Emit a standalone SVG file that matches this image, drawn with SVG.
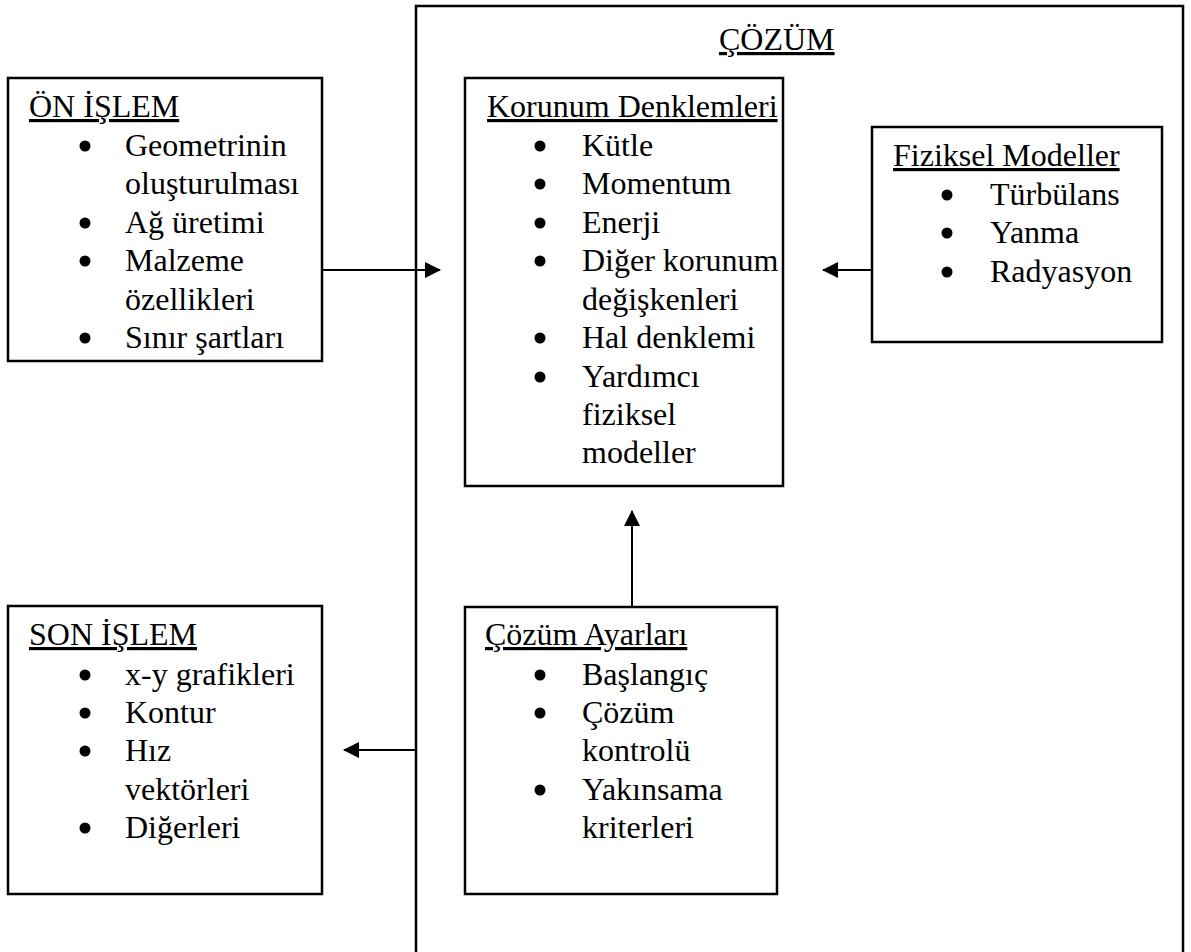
<svg xmlns="http://www.w3.org/2000/svg" width="1191" height="952" viewBox="0 0 1191 952">
<style>
.box{fill:none;stroke:#000;stroke-width:2.5}
.t{font-family:'Liberation Serif','DejaVu Serif',serif;font-size:32px;fill:#000}
.h{text-decoration:underline}
.b{fill:#000}
.c{stroke:#000;stroke-width:2;fill:none}
</style>
<defs>
<marker id="ah" viewBox="0 0 16 16" refX="15" refY="8" markerWidth="16" markerHeight="16" markerUnits="userSpaceOnUse" orient="auto">
<path d="M0,0 L16,8 L0,16 Z" fill="#000"/>
</marker>
</defs>
<rect width="1191" height="952" fill="#fff"/>
<g class="t">
<g id="cozum">
<rect class="box" x="416" y="6" width="767" height="960"/>
<text class="h" x="719" y="50">ÇÖZÜM</text>
</g>
<g id="on-islem">
<rect class="box" x="8" y="78" width="314" height="283"/>
<text class="h" x="29" y="117">ÖN İŞLEM</text>
<circle class="b" cx="85" cy="146" r="5.5"/>
<text x="125" y="156">Geometrinin</text>
<text x="125" y="194">oluşturulması</text>
<circle class="b" cx="85" cy="223" r="5.5"/>
<text x="125" y="233">Ağ üretimi</text>
<circle class="b" cx="85" cy="261" r="5.5"/>
<text x="125" y="271">Malzeme</text>
<text x="125" y="310">özellikleri</text>
<circle class="b" cx="85" cy="338" r="5.5"/>
<text x="125" y="348">Sınır şartları</text>
</g>
<g id="korunum">
<rect class="box" x="465" y="78" width="318" height="408"/>
<text class="h" x="487" y="117">Korunum Denklemleri</text>
<circle class="b" cx="540" cy="146" r="5.5"/>
<text x="582" y="156">Kütle</text>
<circle class="b" cx="540" cy="184" r="5.5"/>
<text x="582" y="194">Momentum</text>
<circle class="b" cx="540" cy="223" r="5.5"/>
<text x="582" y="233">Enerji</text>
<circle class="b" cx="540" cy="261" r="5.5"/>
<text x="582" y="271">Diğer korunum</text>
<text x="582" y="310">değişkenleri</text>
<circle class="b" cx="540" cy="338" r="5.5"/>
<text x="582" y="348">Hal denklemi</text>
<circle class="b" cx="540" cy="377" r="5.5"/>
<text x="582" y="387">Yardımcı</text>
<text x="582" y="425">fiziksel</text>
<text x="582" y="463">modeller</text>
</g>
<g id="fiziksel">
<rect class="box" x="872" y="127" width="290" height="215"/>
<text class="h" x="893" y="166">Fiziksel Modeller</text>
<circle class="b" cx="947" cy="195" r="5.5"/>
<text x="990" y="205">Türbülans</text>
<circle class="b" cx="947" cy="233" r="5.5"/>
<text x="990" y="243">Yanma</text>
<circle class="b" cx="947" cy="272" r="5.5"/>
<text x="990" y="282">Radyasyon</text>
</g>
<g id="son-islem">
<rect class="box" x="8" y="606" width="314" height="288"/>
<text class="h" x="29" y="645">SON İŞLEM</text>
<circle class="b" cx="85" cy="675" r="5.5"/>
<text x="125" y="685">x-y grafikleri</text>
<circle class="b" cx="85" cy="713" r="5.5"/>
<text x="125" y="723">Kontur</text>
<circle class="b" cx="85" cy="751" r="5.5"/>
<text x="125" y="761">Hız</text>
<text x="125" y="800">vektörleri</text>
<circle class="b" cx="85" cy="828" r="5.5"/>
<text x="125" y="838">Diğerleri</text>
</g>
<g id="cozum-ayarlari">
<rect class="box" x="465" y="607" width="312" height="287"/>
<text class="h" x="485" y="645">Çözüm Ayarları</text>
<circle class="b" cx="540" cy="675" r="5.5"/>
<text x="582" y="685">Başlangıç</text>
<circle class="b" cx="540" cy="713" r="5.5"/>
<text x="582" y="723">Çözüm</text>
<text x="582" y="761">kontrolü</text>
<circle class="b" cx="540" cy="790" r="5.5"/>
<text x="582" y="800">Yakınsama</text>
<text x="582" y="838">kriterleri</text>
</g>
</g>
<g id="connectors">
<line class="c" x1="322" y1="270" x2="440" y2="270" marker-end="url(#ah)"/>
<line class="c" x1="872" y1="270" x2="823" y2="270" marker-end="url(#ah)"/>
<line class="c" x1="632" y1="607" x2="632" y2="511" marker-end="url(#ah)"/>
<line class="c" x1="416" y1="750" x2="344" y2="750" marker-end="url(#ah)"/>
</g>
</svg>
